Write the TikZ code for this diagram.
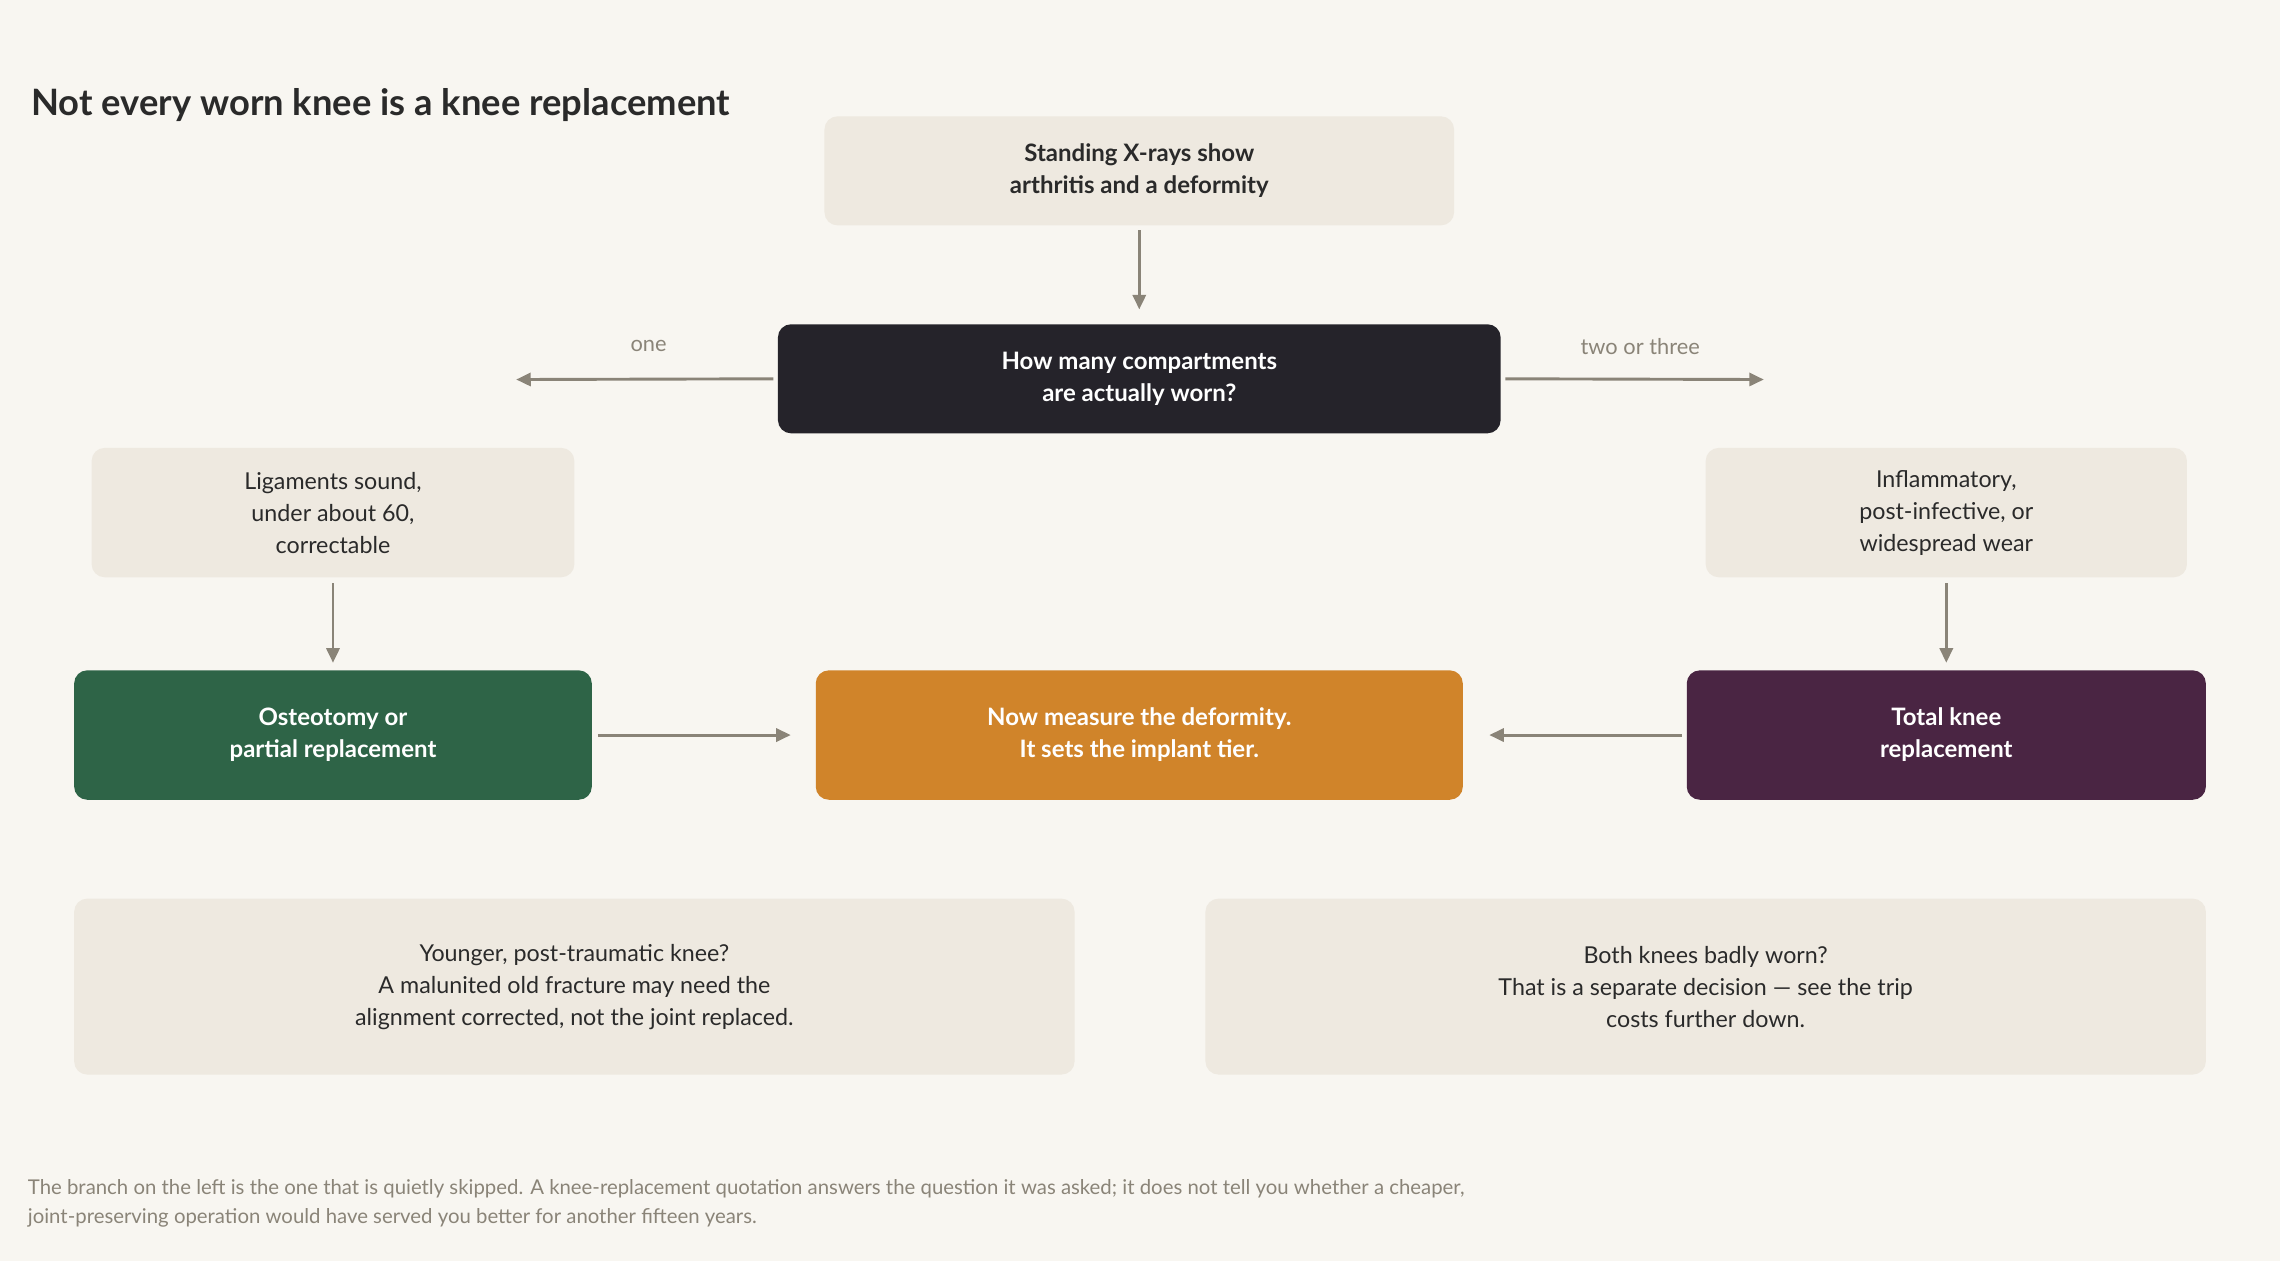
\documentclass[tikz,border=0pt]{standalone}
\usepackage{fontspec}
\setmainfont{Lato}
\usetikzlibrary{arrows.meta}
\definecolor{bg}{HTML}{F8F6F1}
\definecolor{beige}{HTML}{EEE9E0}
\definecolor{dark}{HTML}{25232A}
\definecolor{grn}{HTML}{2E6447}
\definecolor{org}{HTML}{D0842A}
\definecolor{pur}{HTML}{4A2543}
\definecolor{arr}{HTML}{8A8478}
\definecolor{txt}{HTML}{2A2A2A}
\begin{document}
\begin{tikzpicture}[x=1pt,y=-1pt,
 box/.style={rounded corners=9pt,align=center,inner sep=0pt,font=\fontsize{16}{22}\selectfont,text=txt},
 cond/.style={box,fill=beige},
 key/.style={box,text=white,font=\bfseries\fontsize{16.5}{22}\selectfont},
 ar/.style={draw=arr,line width=2pt,-{Triangle[length=10pt,width=9pt]}},
 lab/.style={text=arr,font=\fontsize{15}{18}\selectfont}]
\fill[bg] (0,0) rectangle (1568,867);
\useasboundingbox (0,0) rectangle (1568,867);
\node[anchor=west,font=\bfseries\fontsize{25}{30}\selectfont,text=txt] (title) at (18,72) {Not every worn knee is a knee replacement};
\node[cond,minimum width=433pt,minimum height=75pt,font=\bfseries\fontsize{16.5}{22}\selectfont] (top) at (783.5,117.5) {Standing X-rays show\\arthritis and a deformity};
\node[key,fill=dark,minimum width=497pt,minimum height=75pt] (q) at (783.5,260.5) {How many compartments\\are actually worn?};
\node[cond,minimum width=332pt,minimum height=89pt] (lc) at (229,352.5) {Ligaments sound,\\under about 60,\\correctable};
\node[cond,minimum width=331pt,minimum height=89pt] (rc) at (1338.5,352.5) {Inflammatory,\\post-infective, or\\widespread wear};
\node[key,fill=grn,minimum width=356pt,minimum height=89pt] (g) at (229,505.5) {Osteotomy or\\partial replacement};
\node[key,fill=org,minimum width=445pt,minimum height=89pt] (o) at (783.5,505.5) {Now measure the deformity.\\It sets the implant tier.};
\node[key,fill=pur,minimum width=357pt,minimum height=89pt] (p) at (1338.5,505.5) {Total knee\\replacement};
\node[cond,minimum width=688pt,minimum height=121pt] (n1) at (395,678.5) {Younger, post-traumatic knee?\\A malunited old fracture may need the\\alignment corrected, not the joint replaced.};
\node[cond,minimum width=688pt,minimum height=121pt] (n2) at (1173,678.5) {Both knees badly worn?\\That is a separate decision — see the trip\\costs further down.};
\coordinate (le) at (355,261);
\coordinate (re) at (1213,261);
\draw[ar,shorten <=3pt,shorten >=10pt] (top) -- (q);
\draw[ar,shorten <=3pt] (q.west) -- (le);
\draw[ar,shorten <=3pt] (q.east) -- (re);
\node[lab] (one) at (446,238) {one};
\node[lab] (two) at (1128,238) {two or three};
\draw[ar,shorten <=4pt,shorten >=5pt] (lc) -- (g);
\draw[ar,shorten <=4pt,shorten >=5pt] (rc) -- (p);
\draw[ar,shorten <=4pt,shorten >=17pt] (g) -- (o);
\draw[ar,shorten <=3pt,shorten >=18pt] (p) -- (o);
\node[anchor=north west,align=left,text=arr,font=\fontsize{14}{20}\selectfont,inner sep=0pt] (foot) at (19,811) {The branch on the left is the one that is quietly skipped. A knee-replacement quotation answers the question it was asked; it does not tell you whether a cheaper,\\joint-preserving operation would have served you better for another fifteen years.};
\end{tikzpicture}
\end{document}
